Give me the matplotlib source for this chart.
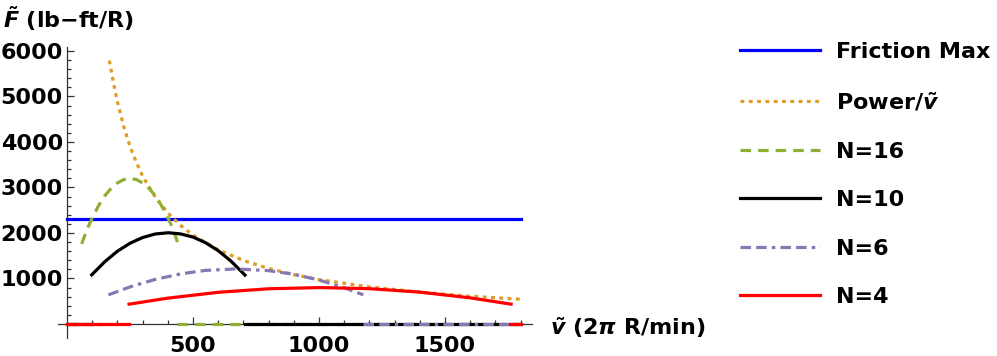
import matplotlib
matplotlib.use("Agg")
import matplotlib.pyplot as plt

plt.rcParams['font.family'] = ['DejaVu Sans']
plt.rcParams['font.weight'] = 'bold'
plt.rcParams['mathtext.fontset'] = 'custom'
plt.rcParams['mathtext.it'] = 'DejaVu Sans:italic:bold'
plt.rcParams['mathtext.rm'] = 'DejaVu Sans:bold'
plt.rcParams['mathtext.bf'] = 'DejaVu Sans:bold'

# range of v over which everything is plotted
v_range = [0, 1800]

# friction max (flat line)
friction = 2310

# power / v
power_v = [168, 185, 200, 225, 250, 275, 300, 350, 400, 450, 500, 600, 700, 800, 900, 1000, 1200, 1400, 1600, 1800]
power_F = [5790, 5280, 4880, 4340, 3900, 3550, 3250, 2790, 2440, 2170, 1950, 1630, 1395, 1220, 1085, 975, 815, 700, 610, 543]

# N=16 (green dashed)
n16_v = [58, 80, 100, 125, 150, 175, 200, 225, 250, 275, 300, 325, 350, 375, 400, 420, 438]
n16_F = [1760, 2090, 2330, 2600, 2820, 2980, 3100, 3175, 3200, 3175, 3100, 2980, 2820, 2600, 2330, 2100, 1800]

# N=10 (black)
n10_v = [98, 150, 200, 250, 300, 350, 402, 450, 500, 550, 600, 650, 706]
n10_F = [1080, 1370, 1600, 1775, 1900, 1978, 2005, 1980, 1910, 1785, 1610, 1385, 1075]

# N=6 (purple dot-dash)
n6_v = [164, 250, 350, 450, 550, 670, 800, 900, 1000, 1100, 1176]
n6_F = [640, 815, 980, 1100, 1178, 1210, 1172, 1092, 966, 796, 640]

# N=4 (red)
n4_v = [246, 400, 600, 800, 1004, 1200, 1400, 1600, 1762]
n4_F = [435, 568, 696, 774, 800, 776, 700, 574, 435]

c_fric = '#0000FF'
c_pow = '#E19C24'
c_16 = '#8FB032'
c_10 = '#000000'
c_6 = '#8778B3'
c_4 = '#FF0000'

fig = plt.figure(figsize=(9.97, 3.56), dpi=100)
ax = fig.add_axes([0.0584, 0.0506, 0.4752, 0.8174])
ax.set_xlim(-35, 1845)
ax.set_ylim(-308, 6088)

lw = 2.3
ax.plot(v_range, [friction, friction], color=c_fric, lw=lw, zorder=3, label='Friction Max')
ax.plot(power_v, power_F, color=c_pow, lw=lw, ls=(0, (1.2, 1.4)), zorder=3,
        label=r'Power/$\tilde{v}$')

styles = [
    (n16_v, n16_F, c_16, (0, (3.3, 2.2)), 'N=16'),
    (n10_v, n10_F, c_10, '-', 'N=10'),
    (n6_v, n6_F, c_6, (0, (3.3, 1.6, 3.3, 1.6, 1.1, 1.6)), 'N=6'),
    (n4_v, n4_F, c_4, '-', 'N=4'),
]
for vv, ff, col, ls, lab in styles:
    ax.plot(vv, ff, color=col, lw=lw, ls=ls, zorder=3, label=lab)
    # piecewise function is zero outside its range
    ax.plot([v_range[0], vv[0]], [0, 0], color=col, lw=lw, ls=ls, zorder=3)
    ax.plot([vv[-1], v_range[1]], [0, 0], color=col, lw=lw, ls=ls, zorder=3)

# mathematica style axes through origin
for s in ['top', 'right']:
    ax.spines[s].set_visible(False)
ax.spines['left'].set_position(('data', 0))
ax.spines['bottom'].set_position(('data', 0))
for s in ['left', 'bottom']:
    ax.spines[s].set_color('#333333')
    ax.spines[s].set_linewidth(0.9)

ax.set_xticks([500, 1000, 1500])
ax.set_xticks(range(100, 1900, 100), minor=True)
ax.set_yticks([1000, 2000, 3000, 4000, 5000, 6000])
ax.set_yticks(range(200, 6001, 200), minor=True)
ax.tick_params(which='both', direction='in', color='#333333', width=0.9, labelsize=16)
ax.tick_params(which='major', length=5)
ax.tick_params(which='minor', length=3)
ax.tick_params(axis='x', pad=9)
ax.tick_params(axis='y', pad=3)
for t in ax.get_xticklabels() + ax.get_yticklabels():
    t.set_fontweight('bold')

fig.text(0.003, 1 - 28 / 356, r'$\tilde{F}$ (lb$-$ft/R)', fontsize=16, ha='left', va='baseline')
fig.text(550 / 997, 1 - 335 / 356, r'$\tilde{v}$ (2$\pi$ R/min)', fontsize=16, ha='left', va='baseline')

leg = fig.legend(loc='upper left', bbox_to_anchor=(740 / 997, 1 - 42 / 356), frameon=False,
                 fontsize=16, handlelength=3.6, handletextpad=0.7, labelspacing=1.28,
                 borderpad=0, borderaxespad=0)

fig.savefig('out.png', dpi=100)
